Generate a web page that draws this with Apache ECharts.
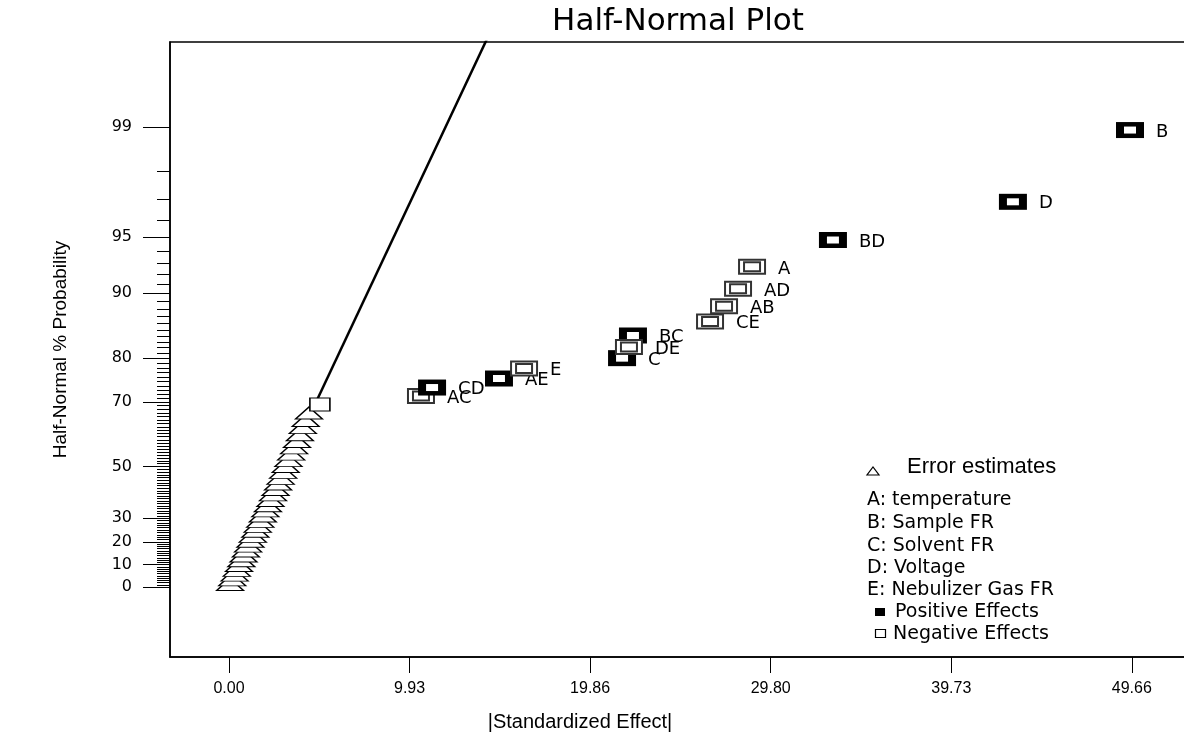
<!DOCTYPE html>
<html>
<head>
<meta charset="utf-8">
<script src="https://cdn.jsdelivr.net/npm/echarts@6/dist/echarts.min.js"></script>
<style>
html,body{margin:0;padding:0;background:#fff;}
#chart{width:1184px;height:739px;}
</style>
</head>
<body>
<div id="chart"></div>
<script>
// ---------- data ----------
// labelled effects (drawing order as in the picture)
const effectNames    = ['AC','CD','AE','E','C','BC','DE','CE','AB','AD','A','BD','D','B'];
const effectSizes    = [10.56,11.17,14.85,16.23,21.62,22.22,22.00,26.46,27.23,28.00,28.77,33.22,43.12,49.56];
const effectPercents = [71.5,73.6,75.7,77.9,80.0,84.1,82.1,86.3,88.4,90.5,92.7,94.8,96.9,98.95];
const effectSigns    = [-1,1,1,-1,1,1,-1,-1,-1,-1,-1,1,1,1]; // 1 = positive, -1 = negative

// unlabelled effect (plain box)
const boxSizes    = [5.0];
const boxPercents = [69.3];

// error estimates (triangles)
const errorSizes = [0.06,0.18,0.31,0.43,0.55,0.68,0.80,0.93,1.05,1.18,1.31,1.45,1.58,1.72,1.86,2.00,
                    2.14,2.28,2.42,2.56,2.70,2.84,2.98,3.12,3.27,3.42,3.58,3.74,3.90,4.06,4.22,4.40];
const errorPercents = [1.1,3.2,5.3,7.4,9.6,11.7,13.8,16.0,18.1,20.2,22.3,24.5,26.6,28.7,30.9,33.0,
                       35.1,37.2,39.4,41.5,43.6,45.7,47.9,50.0,52.1,54.3,56.4,58.5,60.6,62.8,64.9,67.0];

// fitted line through the error estimates
const lineSizes    = [0, 14.8];
const linePercents = [0, 99.863];

// tick labels
const xTickValues = [0, 9.932, 19.864, 29.796, 39.728, 49.66];
const yTickPercents = [0,10,20,30,50,70,80,90,95,99];

const legendFactors = ['A: temperature','B: Sample FR','C: Solvent FR','D: Voltage','E: Nebulizer Gas FR'];

// ---------- half-normal probability scale ----------
function normInv(p){
  const a=[-3.969683028665376e+01,2.209460984245205e+02,-2.759285104469687e+02,1.383577518672690e+02,-3.066479806614716e+01,2.506628277459239e+00];
  const b=[-5.447609879822406e+01,1.615858368580409e+02,-1.556989798598866e+02,6.680131188771972e+01,-1.328068155288572e+01];
  const c=[-7.784894002430293e-03,-3.223964580411365e-01,-2.400758277161838e+00,-2.549732539343734e+00,4.374664141464968e+00,2.938163982698783e+00];
  const d=[7.784695709041462e-03,3.224671290700398e-01,2.445134137142996e+00,3.754408661907416e+00];
  const pl=0.02425, ph=1-pl; let q,r;
  if(p<pl){q=Math.sqrt(-2*Math.log(p));return (((((c[0]*q+c[1])*q+c[2])*q+c[3])*q+c[4])*q+c[5])/((((d[0]*q+d[1])*q+d[2])*q+d[3])*q+1);}
  if(p<=ph){q=p-0.5;r=q*q;return (((((a[0]*r+a[1])*r+a[2])*r+a[3])*r+a[4])*r+a[5])*q/(((((b[0]*r+b[1])*r+b[2])*r+b[3])*r+b[4])*r+1);}
  q=Math.sqrt(-2*Math.log(1-p));return -(((((c[0]*q+c[1])*q+c[2])*q+c[3])*q+c[4])*q+c[5])/((((d[0]*q+d[1])*q+d[2])*q+d[3])*q+1);
}
const hn = pct => normInv(0.5 + pct/200);

const yMajorZ = yTickPercents.map(hn);
const yMinorZ = [];
for (let k = 0; k <= 99; k++) yMinorZ.push(hn(k));
function zToLabel(v){
  let best = 0, bd = Infinity;
  yTickPercents.forEach((p,i)=>{ const dd = Math.abs(yMajorZ[i]-v); if (dd < bd){bd = dd; best = p;} });
  return String(best);
}

const Y_MIN = -0.392, Y_MAX = 3.052;
const X_MIN = -3.245, X_MAX = 52.86;

const effectData = effectNames.map((n,i)=>[effectSizes[i], hn(effectPercents[i]), effectSigns[i]]);
const errorData  = errorSizes.map((x,i)=>[x, hn(errorPercents[i])]);
const boxData    = boxSizes.map((x,i)=>[x, hn(boxPercents[i])]);
const lineData   = lineSizes.map((x,i)=>[x, hn(linePercents[i])]);

const chart = echarts.init(document.getElementById('chart'));

const legendGraphics = [];
const LX = 867;
legendGraphics.push({type:'polygon', shape:{points:[[867,475],[879,475],[873,467]]},
  style:{fill:'#fff', stroke:'#000', lineWidth:1.2}});
legendGraphics.push({type:'text', x:907, y:467, style:{text:'Error estimates', font:'22px "Liberation Sans"', fill:'#000', verticalAlign:'middle'}});
const factorY = [500,523,546,568,590];
legendFactors.forEach((t,i)=>{
  legendGraphics.push({type:'text', x:LX, y:factorY[i], style:{text:t, font:'19px "DejaVu Sans"', fill:'#000', verticalAlign:'middle'}});
});
legendGraphics.push({type:'rect', shape:{x:875,y:608,width:10,height:8}, style:{fill:'#000'}});
legendGraphics.push({type:'text', x:895, y:612, style:{text:'Positive Effects', font:'19px "DejaVu Sans"', fill:'#000', verticalAlign:'middle'}});
legendGraphics.push({type:'rect', shape:{x:875.5,y:629.5,width:10,height:8}, style:{fill:'#fff', stroke:'#000', lineWidth:1.2}});
legendGraphics.push({type:'text', x:893, y:634, style:{text:'Negative Effects', font:'19px "DejaVu Sans"', fill:'#000', verticalAlign:'middle'}});

const option = {
  animation: false,
  backgroundColor: '#fff',
  title: [
    {text:'Half-Normal Plot', left:678, top:6, textAlign:'center', padding:0,
     textStyle:{fontFamily:'DejaVu Sans', fontSize:31, fontWeight:'normal', color:'#000'}},
    {text:'|Standardized Effect|', left:580, top:712, textAlign:'center', padding:0,
     textStyle:{fontFamily:'Liberation Sans', fontSize:20, fontWeight:'normal', color:'#000'}}
  ],
  grid: {left:170, top:42, right:-6, bottom:82, show:true, borderColor:'#000', borderWidth:1.5,
         containLabel:false, outerBoundsMode:'none'},
  xAxis: {
    type:'value', min:X_MIN, max:X_MAX, position:'bottom',
    axisLine:{show:true, onZero:false, lineStyle:{color:'#000', width:1.5}},
    axisTick:{show:true, customValues:xTickValues, length:16, lineStyle:{color:'#000', width:1}},
    axisLabel:{show:true, customValues:xTickValues, margin:24, color:'#000',
               fontFamily:'Liberation Sans', fontSize:16,
               formatter: v => v.toFixed(2)},
    splitLine:{show:false}
  },
  yAxis: [
    {
      type:'value', min:Y_MIN, max:Y_MAX, position:'left',
      name:'Half-Normal % Probability', nameLocation:'middle', nameGap:100,
      nameTextStyle:{fontFamily:'Liberation Sans', fontSize:19, color:'#000'},
      axisLine:{show:true, onZero:false, lineStyle:{color:'#000', width:1.5}},
      axisTick:{show:true, customValues:yMajorZ, length:27, lineStyle:{color:'#000', width:1}},
      axisLabel:{show:true, customValues:yMajorZ, margin:38, color:'#000',
                 fontFamily:'DejaVu Sans', fontSize:16, formatter: zToLabel},
      splitLine:{show:false}
    },
    {
      type:'value', min:Y_MIN, max:Y_MAX, position:'left', offset:0,
      axisLine:{show:false, onZero:false},
      axisTick:{show:true, customValues:yMinorZ, length:13, lineStyle:{color:'#000', width:1}},
      axisLabel:{show:false},
      splitLine:{show:false}
    }
  ],
  series: [
    {
      name:'Fit line', type:'line', data:lineData, symbol:'none', z:1,
      lineStyle:{color:'#000', width:2.5}, clip:true
    },
    {
      name:'Error estimates', type:'scatter', data:errorData, z:2,
      symbol:'triangle', symbolSize:[27,12],
      itemStyle:{color:'#fff', borderColor:'#000', borderWidth:1.3, opacity:1}
    },
    {
      name:'Effect', type:'scatter', data:boxData, z:3,
      symbol:'rect', symbolSize:[20,13],
      itemStyle:{color:'#fff', borderColor:'#000', borderWidth:1.3, opacity:1}
    },
    {
      name:'Effects', type:'custom', data:effectData, z:4,
      renderItem: function(params, api){
        const pt = api.coord([api.value(0), api.value(1)]);
        const pos = api.value(2) > 0;
        const W = 28, H = 16;
        const children = [];
        if (pos) {
          children.push({type:'rect', shape:{x:pt[0]-W/2, y:pt[1]-H/2, width:W, height:H}, style:{fill:'#000'}});
          children.push({type:'rect', shape:{x:pt[0]-6, y:pt[1]-3.5, width:12, height:7}, style:{fill:'#fff'}});
        } else {
          children.push({type:'rect', shape:{x:pt[0]-W/2+1, y:pt[1]-H/2+1, width:W-2, height:H-2}, style:{fill:'#fff', stroke:'#333', lineWidth:2}});
          children.push({type:'rect', shape:{x:pt[0]-8, y:pt[1]-4.5, width:16, height:9}, style:{fill:'#fff', stroke:'#333', lineWidth:2}});
        }
        children.push({type:'text', x:pt[0]+26, y:pt[1]+2,
          style:{text:effectNames[params.dataIndex], font:'18px "DejaVu Sans"', fill:'#000', verticalAlign:'middle', align:'left'}});
        return {type:'group', children:children};
      }
    }
  ],
  graphic: legendGraphics
};
chart.setOption(option);
</script>
</body>
</html>
